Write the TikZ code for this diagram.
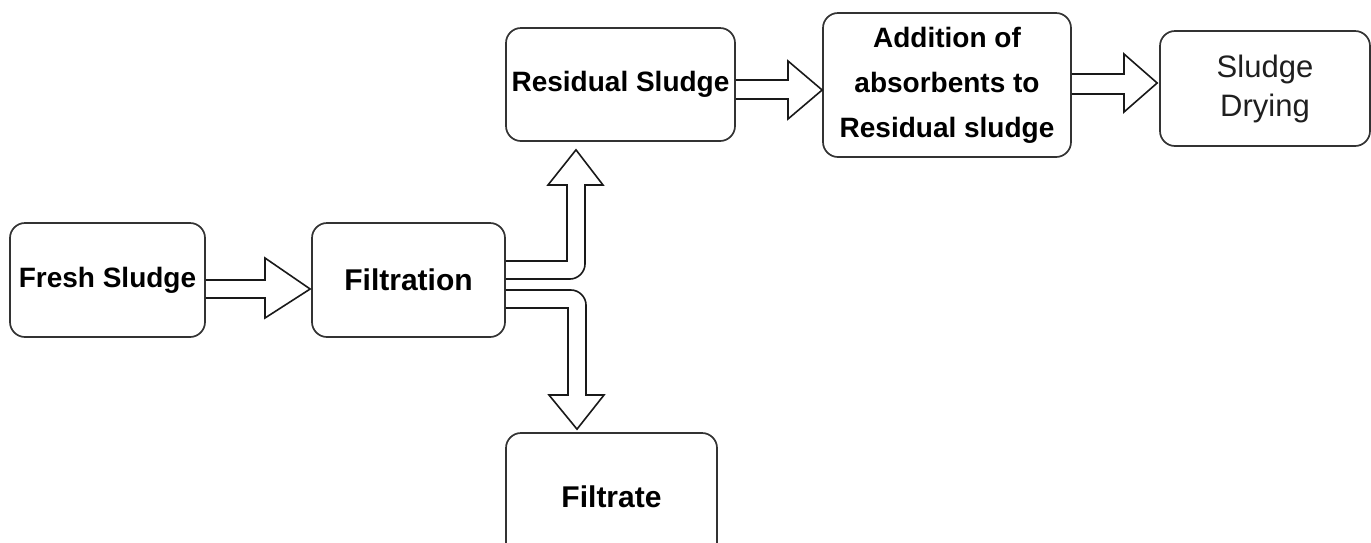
\documentclass[tikz,border=0pt]{standalone}
\usepackage{fontspec}
\setmainfont{Liberation Sans}
\usetikzlibrary{calc}
\begin{document}
\begin{tikzpicture}[x=1pt,y=-1pt,
  box/.style={draw=black!80, line width=1.7pt, rounded corners=15pt, fill=white,
    align=center, inner sep=0pt, font=\fontsize{28}{34}\selectfont\bfseries},
  bigtext/.style={font=\fontsize{30}{36}\selectfont\bfseries},
  barrow/.style={draw=black!90, line width=1.6pt, line join=miter}]
\useasboundingbox (0,0) rectangle (1371,542);
\clip (0,0) rectangle (1371,542);
\node[box, minimum width=195pt, minimum height=114pt] (fresh) at (107.5,280) {Fresh Sludge};
\node[box, minimum width=193pt, minimum height=114pt, bigtext] (filt) at (408.5,280) {Filtration};
\node[box, minimum width=229pt, minimum height=113pt] (resid) at (620.5,84.5) {Residual Sludge};
\node[box, minimum width=248pt, minimum height=144pt, font=\fontsize{28}{45}\selectfont\bfseries] (addit) at (947,85) {Addition of\\absorbents to\\Residual sludge};
\node[box, minimum width=210pt, minimum height=115pt, text=black!88, font=\fontsize{31}{39}\selectfont] (dry) at (1265,88.5) {Sludge\\Drying};
\node[box, minimum width=211pt, minimum height=128pt, bigtext] (filtr) at (611.5,497) {Filtrate};
% fresh -> filtration
\draw[barrow] (fresh.east) -- (265,280) -- (265,258) -- ($(filt.west)+(-1,9)$) -- (265,318) -- (265,298) -- ($(fresh.east)+(0,18)$);
% residual -> addition
\draw[barrow] ($(resid.east)+(0,-4.5)$) -- (788,80) -- (788,61) -- ($(addit.west)+(0,5)$) -- (788,119) -- (788,99) -- ($(resid.east)+(0,14.5)$);
% addition -> drying
\draw[barrow] ($(addit.east)+(0,-11)$) -- (1124,74) -- (1124,54) -- ($(dry.west)+(-2,-5.5)$) -- (1124,112) -- (1124,94) -- ($(addit.east)+(0,9)$);
% filtration -> residual sludge
\draw[barrow] ($(filt.east)+(0,-19)$) -- (567,261) -- (567,185) -- (548,185) -- ($(resid.south)+(-44.5,8)$) -- (603,185) -- (585,185) -- (585,264) .. controls (585,272) and (578,279) .. (570,279) -- ($(filt.east)+(0,-1)$);
% filtration -> filtrate
\draw[barrow] ($(filt.east)+(0,10)$) -- (571,290) .. controls (579,290) and (586,297) .. (586,305) -- (586,395) -- (604,395) -- ($(filtr.north)+(-34.5,-3)$) -- (549,395) -- (568,395) -- (568,308) -- ($(filt.east)+(0,28)$);
\end{tikzpicture}
\end{document}
